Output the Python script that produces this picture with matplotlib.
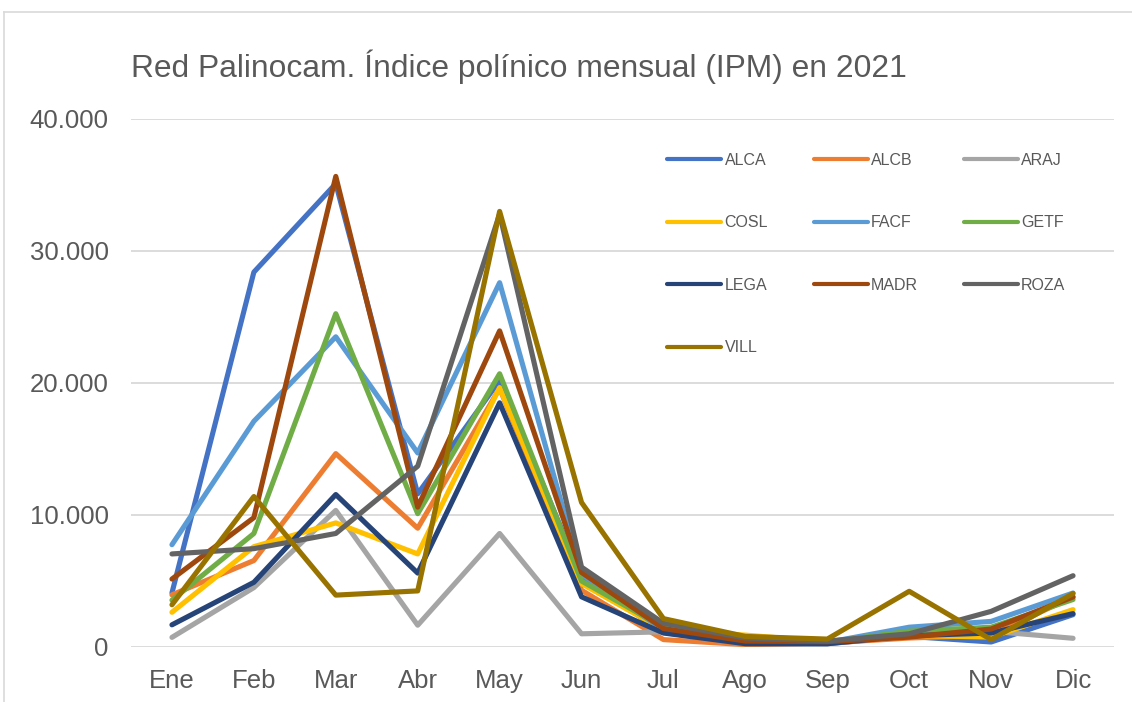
import matplotlib
matplotlib.use("Agg")
import matplotlib.pyplot as plt
from matplotlib.lines import Line2D
from matplotlib.ticker import FuncFormatter

months = ["Ene", "Feb", "Mar", "Abr", "May", "Jun", "Jul", "Ago", "Sep", "Oct", "Nov", "Dic"]

alca = [4100, 28400, 35100, 11600, 20200, 5300, 1100, 250, 250, 800, 380, 2450]
alcb = [3950, 6550, 14650, 9000, 19600, 4300, 560, 180, 300, 680, 900, 3800]
araj = [730, 4500, 10350, 1650, 8600, 1000, 1150, 450, 400, 900, 1190, 660]
cosl = [2630, 7600, 9400, 7050, 19650, 4800, 1300, 900, 400, 880, 750, 2830]
facf = [7750, 17100, 23500, 14700, 27600, 5500, 1300, 400, 350, 1500, 1940, 4090]
getf = [3550, 8600, 25250, 10100, 20700, 5000, 1500, 450, 350, 1200, 1500, 3600]
lega = [1680, 4900, 11550, 5600, 18500, 3800, 1060, 250, 250, 850, 1060, 2530]
madr = [5150, 9800, 35650, 10600, 23950, 5650, 1400, 450, 400, 750, 1360, 3790]
roza = [7050, 7450, 8600, 13700, 32800, 6050, 1800, 680, 450, 1000, 2700, 5400]
vill = [3200, 11400, 3930, 4250, 33000, 10950, 2150, 800, 600, 4220, 560, 4050]

names = ["ALCA", "ALCB", "ARAJ", "COSL", "FACF", "GETF", "LEGA", "MADR", "ROZA", "VILL"]
series = [alca, alcb, araj, cosl, facf, getf, lega, madr, roza, vill]
colors = ["#4472C4", "#ED7D31", "#A5A5A5", "#FFC000", "#5B9BD5",
          "#70AD47", "#264478", "#9E480E", "#636363", "#997300"]

plt.rcParams["font.family"] = ["Liberation Sans", "DejaVu Sans"]
txt = "#595959"

fig = plt.figure(figsize=(11.32, 7.02), dpi=100)
ax = fig.add_axes([131 / 1132, 1 - 647 / 702, (1114 - 131) / 1132, (647 - 119) / 702])

# chart frame (cropped on the right and bottom)
fig.add_artist(Line2D([4 / 1132, 1], [1 - 12 / 702] * 2, color="#D9D9D9", lw=1.2))
fig.add_artist(Line2D([4 / 1132] * 2, [0, 1 - 12 / 702], color="#D9D9D9", lw=1.2))

x = list(range(len(months)))
handles = []
for name, vals, c in zip(names, series, colors):
    h, = ax.plot(x, vals, color=c, lw=3.7, label=name,
                 solid_joinstyle="round", solid_capstyle="round")
    handles.append(h)

ax.set_xlim(-0.5, 11.5)
ax.set_ylim(0, 40000)
ax.set_yticks([0, 10000, 20000, 30000, 40000])
ax.yaxis.set_major_formatter(FuncFormatter(lambda v, p: f"{int(v):,}".replace(",", ".")))
ax.set_xticks(x)
ax.set_xticklabels(months)
ax.grid(axis="y", color="#D9D9D9", lw=1.3)
ax.set_axisbelow(True)
for s in ax.spines.values():
    s.set_visible(False)
ax.tick_params(length=0, labelsize=18.5, colors=txt)
ax.tick_params(axis="y", pad=16)
ax.tick_params(axis="x", pad=16)

fig.text(131 / 1132, 1 - 67 / 702, "Red Palinocam. Índice polínico mensual (IPM) en 2021",
         fontsize=22.9, color=txt, va="center", ha="left")

# row-wise legend order, matplotlib fills columns first
order = [0, 3, 6, 9, 1, 4, 7, 2, 5, 8]
leg = ax.legend([handles[i] for i in order], [names[i] for i in order],
                ncol=3, loc="upper left",
                bbox_to_anchor=(667 / 1132, 1 - 153 / 702),
                bbox_transform=fig.transFigure,
                frameon=False, fontsize=11.5, handlelength=3.4, handletextpad=0.2,
                labelspacing=2.97, columnspacing=2.85, borderaxespad=0, borderpad=0)
for t in leg.get_texts():
    t.set_color(txt)
for l in leg.get_lines():
    l.set_linewidth(3)

fig.savefig("out.png", dpi=100, facecolor="white")
